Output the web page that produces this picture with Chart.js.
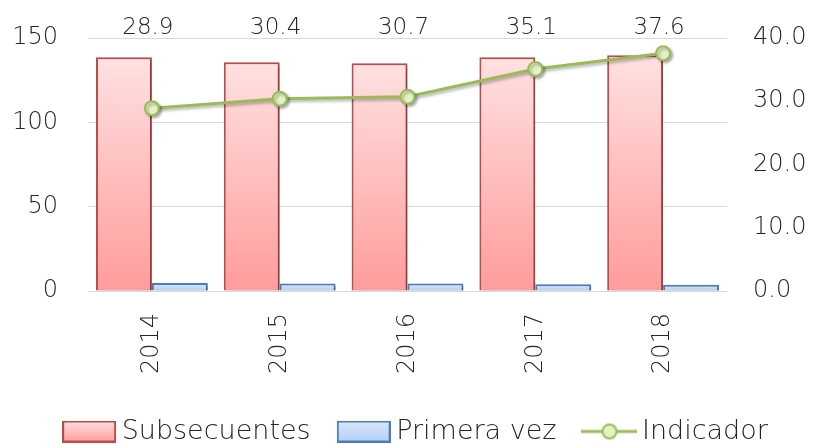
<!DOCTYPE html>
<html><head><meta charset="utf-8">
<script src="https://cdn.jsdelivr.net/npm/chart.js@4.4.0/dist/chart.umd.min.js"></script>
<style>html,body{margin:0;padding:0;background:#fff}#wrap{width:814px;height:444px}</style>
</head><body><div id="wrap"><canvas id="c" width="814" height="444"></canvas></div>
<script>
const years = ['2014', '2015', '2016', '2017', '2018'];
const subsecuentes = [138.6, 135.6, 135.0, 138.6, 139.8];
const primeraVez = [4.8, 4.46, 4.4, 3.95, 3.72];
const indicador = [28.9, 30.4, 30.7, 35.1, 37.6];
const leftTicks = [0, 50, 100, 150];
const rightTicks = [0, 10, 20, 30, 40];
const seriesNames = ['Subsecuentes', 'Primera vez', 'Indicador'];

const FONT = '"DejaVu Sans Light", "DejaVu Sans", sans-serif';
const TXT = '#262626';

function barGrad(c, top, bottom) {
  const ch = c.chart;
  if (!ch.chartArea || c.raw === undefined) return top;
  const ys = ch.scales.y;
  const t = ys.getPixelForValue(c.raw), b = ys.getPixelForValue(0);
  const g = ch.ctx.createLinearGradient(0, t, 0, b);
  g.addColorStop(0, top); g.addColorStop(1, bottom);
  return g;
}

function legendBox(fillTop, fillBottom, border) {
  const cv = document.createElement('canvas');
  cv.width = 54; cv.height = 22;
  const x = cv.getContext('2d');
  const g = x.createLinearGradient(0, 0, 0, 22);
  g.addColorStop(0, fillTop); g.addColorStop(1, fillBottom);
  x.fillStyle = g; x.fillRect(1, 1, 52, 20);
  x.strokeStyle = border; x.lineWidth = 2; x.strokeRect(1, 1, 52, 20);
  return cv;
}
function legendLine() {
  const cv = document.createElement('canvas');
  cv.width = 56; cv.height = 22;
  const x = cv.getContext('2d');
  x.strokeStyle = '#9BBB59'; x.lineWidth = 3;
  x.beginPath(); x.moveTo(0, 11); x.lineTo(56, 11); x.stroke();
  x.beginPath(); x.arc(28, 11, 7, 0, Math.PI * 2);
  x.fillStyle = '#E3F2C2'; x.fill();
  x.lineWidth = 2; x.stroke();
  return cv;
}

const shadowPlugin = {
  id: 'shadow',
  beforeDatasetDraw(chart) {
    const c = chart.ctx; c.save();
    c.shadowColor = 'rgba(0,0,0,0.3)'; c.shadowBlur = 3; c.shadowOffsetX = 2; c.shadowOffsetY = 2;
  },
  afterDatasetDraw(chart) { chart.ctx.restore(); }
};

const labelPlugin = {
  id: 'topLabels',
  afterDatasetsDraw(chart) {
    const meta = chart.getDatasetMeta(2);
    const c = chart.ctx;
    c.save();
    c.font = '23px ' + FONT;
    c.fillStyle = TXT; c.textAlign = 'center'; c.textBaseline = 'middle';
    meta.data.forEach((pt, i) => {
      c.fillText(indicador[i].toFixed(1), pt.x - 4, chart.chartArea.top - 10);
    });
    c.restore();
  }
};

const legendShift = {
  id: 'legendShift',
  afterLayout(chart) {
    const L = chart.legend;
    L.top += 11; L.bottom += 11; L.left += 12; L.right += 12;
  }
};
function noVPad(s) { s.paddingTop = 0; s.paddingBottom = 0; }

new Chart(document.getElementById('c'), {
  data: {
    labels: years,
    datasets: [
      { type: 'bar', label: seriesNames[0], data: subsecuentes, yAxisID: 'y', order: 1,
        backgroundColor: c => barGrad(c, '#FFE1E1', '#FF9C9C'),
        borderColor: '#BE4B48', borderWidth: 2, borderSkipped: 'bottom' },
      { type: 'bar', label: seriesNames[1], data: primeraVez, yAxisID: 'y', order: 1,
        backgroundColor: c => barGrad(c, '#DDE8FB', '#B4CDF5'),
        borderColor: '#4A7EBB', borderWidth: 2, borderSkipped: 'bottom' },
      { type: 'line', label: seriesNames[2], data: indicador, yAxisID: 'y1', order: 0,
        borderColor: '#9BBB59', borderWidth: 3, tension: 0,
        pointRadius: 7, pointBackgroundColor: '#E3F2C2', pointBorderColor: '#9BBB59', pointBorderWidth: 2 }
    ]
  },
  options: {
    responsive: false, animation: false,
    layout: { padding: { top: 38, left: 0, right: 0, bottom: 0 } },
    datasets: { bar: { categoryPercentage: 0.875, barPercentage: 1 } },
    scales: {
      x: {
        offset: true,
        grid: { display: false }, border: { display: false },
        ticks: { minRotation: 90, maxRotation: 90, padding: 14, color: TXT,
          font: { family: FONT, size: 24 } },
        afterFit(s) { s.height = 82; }
      },
      y: {
        position: 'left', min: 0, max: 150,
        afterBuildTicks(s) { s.ticks = leftTicks.map(v => ({ value: v })); },
        grid: { color: '#D9D9D9', lineWidth: 1, drawTicks: false },
        border: { display: false },
        ticks: { padding: 30, color: TXT, font: { family: FONT, size: 24 } },
        afterFit(s) { s.width = 88; noVPad(s); }
      },
      y1: {
        position: 'right', min: 0, max: 40,
        afterBuildTicks(s) { s.ticks = rightTicks.map(v => ({ value: v })); },
        grid: { display: false, drawTicks: false }, border: { display: false },
        ticks: { padding: 26, color: TXT, font: { family: FONT, size: 24 },
          callback: v => Number(v).toFixed(1) },
        afterFit(s) { s.width = 87; noVPad(s); }
      }
    },
    plugins: {
      tooltip: { enabled: false },
      legend: {
        position: 'bottom',
        labels: {
          usePointStyle: true, pointStyleWidth: 38, boxHeight: 22, padding: 34,
          color: TXT, font: { family: FONT, size: 27 },
          generateLabels() {
            const styles = [legendBox('#FFE1E1', '#FF9C9C', '#BE4B48'),
                            legendBox('#DDE8FB', '#B4CDF5', '#4A7EBB'),
                            legendLine()];
            return seriesNames.map((n, i) => ({ text: n, pointStyle: styles[i], fillStyle: 'transparent',
              strokeStyle: 'transparent', lineWidth: 0, datasetIndex: i, hidden: false, fontColor: TXT }));
          }
        }
      }
    }
  },
  plugins: [shadowPlugin, labelPlugin, legendShift]
});
</script></body></html>
